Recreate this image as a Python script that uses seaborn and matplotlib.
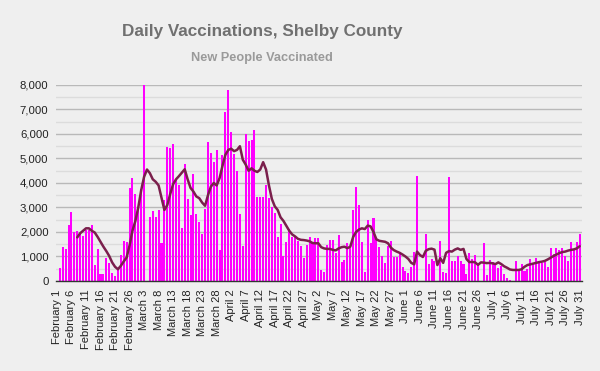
import numpy as np
import pandas as pd
import matplotlib
matplotlib.use("Agg")
import matplotlib.pyplot as plt
from matplotlib.ticker import MultipleLocator, FuncFormatter
import seaborn as sns

plt.rcParams["font.family"] = ["Liberation Sans", "DejaVu Sans"]

# ---------------- data ----------------
start_date = "2021-02-01"
end_date = "2021-07-31"
nan = float("nan")

# New people vaccinated per day (Feb 1 .. Jul 31), NaN = no report
daily_new = [
    nan, 550, 1400, 1300, 2300, 2800, 2000, 2050, 1950, 1850,
    2100, 2100, 2300, 650, 1300, 270, 270, 930, 750, 310,
    200, 500, 1050, 1620, 1600, 3800, 4200, 3550, 3000, 3750,
    8000, nan, 2600, 2850, 2600, 2900, 1550, 3300, 5480, 5440,
    5590, 4120, 3900, 2180, 4760, 3350, 2700, 4350, 2750, 2420,
    1900, 2940, 5690, 5240, 4870, 5350, 1270, 5140, 6910, 7800,
    6070, 5170, 4490, 2720, 1440, 5990, 5710, 5760, 6160, 3410,
    3410, 3410, 3920, 3370, 3010, 2760, 1780, 2330, 1020, 1610,
    2120, 1780, 1800, 1650, 1430, 940, 1470, 1800, 1600, 1750,
    1750, 450, 370, 1470, 1670, 1670, 1140, 1880, 780, 860,
    1550, 1350, 2900, 3840, 3100, 1590, 370, 2490, 1550, 2570,
    1750, 1390, 1020, 730, 1430, 1630, 980, 980, 1140, 570,
    410, 330, 570, 1180, 4280, nan, nan, 1920, 690, 900,
    820, nan, 1630, 370, 330, 4240, 820, 820, 1020, 820,
    690, 290, 1140, 900, 1060, 730, nan, 1550, 245, 860,
    775, 700, 520, 610, 290, 120, 40, nan, 820, 410,
    690, 410, 490, 900, 690, 940, 820, 730, 775, 570,
    1350, 1100, 1350, 1260, 1350, 1020, 820, 1590, 1260, 1590,
    1920,
]

# 7-day average line, Feb 8 .. Jul 31
avg_start = "2021-02-08"
avg_7day = [
    1780, 1950, 2050, 2150, 2150, 2050, 1980, 1800, 1600, 1400,
    1220, 1020, 760, 580, 480, 620, 800, 960, 1450, 2050,
    2450, 3000, 3700, 4250, 4550, 4400, 4150, 4050, 3900, 3400,
    2900, 3100, 3550, 3950, 4150, 4280, 4420, 4560, 4150, 3800,
    3650, 3450, 3380, 3200, 3070, 3500, 3850, 4000, 3900, 4200,
    4700, 5150, 5350, 5400, 5300, 5350, 5500, 4950, 4750, 4500,
    4600, 4500, 4450, 4550, 4850, 4550, 3900, 3350, 3050, 2900,
    2600, 2450, 2250, 2050, 1900, 1820, 1720, 1680, 1670, 1650,
    1620, 1550, 1540, 1540, 1380, 1330, 1310, 1310, 1270, 1250,
    1330, 1380, 1400, 1340, 1400, 1800, 2000, 2100, 2150, 2120,
    2260, 2230, 2000, 1700, 1640, 1620, 1600, 1540, 1360, 1260,
    1200, 1150, 1080, 1000, 900, 740, 680, 1200, 1060, 980,
    1230, 1300, 1320, 1280, 650, 930, 740, 1150, 1220, 1200,
    1280, 1330, 1270, 1310, 900, 770, 780, 760, 660, 760,
    750, 730, 740, 720, 690, 760, 690, 600, 540, 470,
    450, 450, 450, 480, 580, 650, 680, 710, 740, 770,
    790, 820, 880, 950, 1020, 1080, 1140, 1180, 1200, 1240,
    1270, 1290, 1330, 1420,
]

tick_labels = [
    "February 1", "February 6", "February 11", "February 16", "February 21",
    "February 26", "March 3", "March 8", "March 13", "March 18", "March 23",
    "March 28", "April 2", "April 7", "April 12", "April 17", "April 22",
    "April 27", "May 2", "May 7", "May 12", "May 17", "May 22", "May 27",
    "June 1", "June 6", "June 11", "June 16", "June 21", "June 26", "July 1",
    "July 6", "July 11", "July 16", "July 21", "July 26", "July 31",
]
tick_every = 5

# ---------------- frames ----------------
dates = pd.date_range(start_date, end_date, freq="D")
bars = pd.DataFrame({"date": dates.strftime("%Y-%m-%d"), "people": daily_new})
avg_dates = pd.date_range(avg_start, periods=len(avg_7day), freq="D")
line = pd.DataFrame({"pos": dates.get_indexer(avg_dates), "avg": avg_7day})

# ---------------- figure ----------------
bg = "#efefef"
fig = plt.figure(figsize=(6, 3.71), dpi=100, facecolor=bg)
ax = fig.add_axes([0.0925, 0.2426, 0.8775, 0.5283], facecolor=bg)

sns.barplot(data=bars, x="date", y="people", order=list(bars["date"]),
            color="#ff00ff", saturation=1, width=0.7, errorbar=None, ax=ax)
sns.lineplot(data=line, x="pos", y="avg", color="#7a1f4c", lw=1.8, ax=ax,
             solid_joinstyle="round", solid_capstyle="round")

ax.set_xlim(-0.5, 180.8)
ax.set_ylim(0, 8000)
ax.set_xticks(range(0, len(dates), tick_every))
ax.set_xticklabels(tick_labels, rotation=90, fontsize=8, color="#222222")
ax.yaxis.set_major_locator(MultipleLocator(1000))
ax.yaxis.set_minor_locator(MultipleLocator(500))
ax.yaxis.set_major_formatter(FuncFormatter(lambda v, p: f"{int(v):,}"))
ax.tick_params(axis="y", labelsize=8.2, labelcolor="#222222", length=0, pad=5, which="both")
ax.tick_params(axis="x", length=0, pad=6)
ax.grid(axis="y", which="major", color="#b9b9b9", lw=1.0)
ax.grid(axis="y", which="minor", color="#dcdcdc", lw=1.0)
ax.grid(axis="x", visible=False)
ax.set_axisbelow(True)
for s in ["left", "right", "top"]:
    ax.spines[s].set_visible(False)
ax.spines["bottom"].set_color("#333333")
ax.spines["bottom"].set_linewidth(1.0)
ax.set_xlabel("")
ax.set_ylabel("")

fig.text(0.437, 1 - 31.5 / 371, "Daily Vaccinations, Shelby County", ha="center",
         va="center", fontsize=12.3, fontweight="bold", color="#707070")
fig.text(0.436, 1 - 58 / 371, "New People Vaccinated", ha="center",
         va="center", fontsize=9.2, fontweight="bold", color="#9a9a9a")

fig.savefig("out.png", dpi=100, facecolor=bg)
